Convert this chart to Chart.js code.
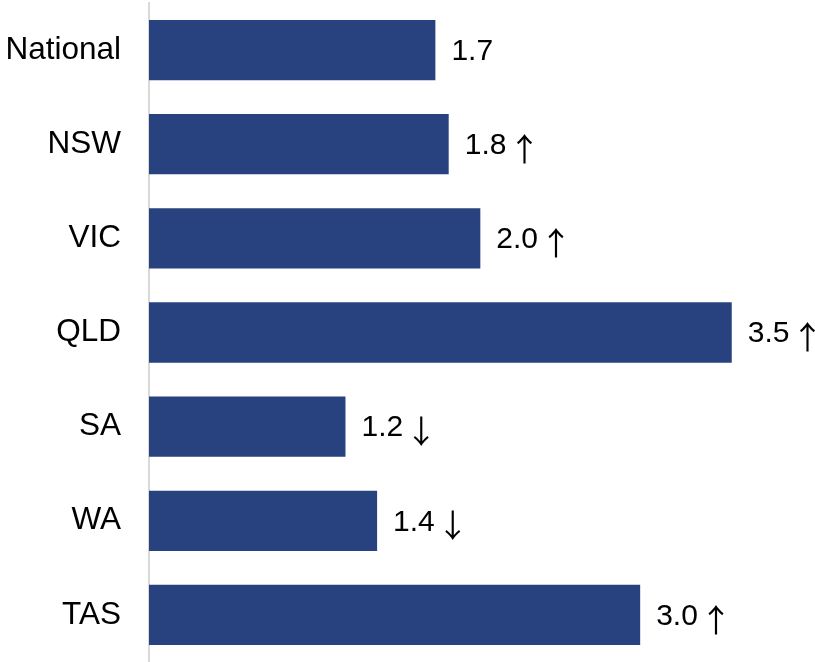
<!DOCTYPE html>
<html>
<head>
<meta charset="utf-8">
<script src="https://cdn.jsdelivr.net/npm/chart.js@4/dist/chart.umd.min.js"></script>
<style>
  html, body { margin: 0; padding: 0; background: #fff; }
  #wrap { width: 815px; height: 662px; }
</style>
</head>
<body>
<div id="wrap"><canvas id="chart"></canvas></div>
<script>
const regions = ['National', 'NSW', 'VIC', 'QLD', 'SA', 'WA', 'TAS'];
const values = [1.72, 1.80, 1.99, 3.50, 1.18, 1.37, 2.95];
const valueLabels = ['1.7', '1.8', '2.0', '3.5', '1.2', '1.4', '3.0'];
const trends = ['', '↑', '↑', '↑', '↓', '↓', '↑'];

// value text plus trend arrow at the end of each bar
const barLabels = {
    id: 'barLabels',
    afterDatasetsDraw(chart) {
        const ctx = chart.ctx;
        const meta = chart.getDatasetMeta(0);
        ctx.save();
        ctx.fillStyle = '#000';
        ctx.textBaseline = 'middle';
        meta.data.forEach((bar, i) => {
            ctx.font = '30px "Liberation Sans", Arial, sans-serif';
            ctx.textAlign = 'left';
            const txt = valueLabels[i];
            const x0 = bar.x + 16;
            ctx.fillText(txt, x0, bar.y + 1.5);
            if (trends[i]) {
                const w = ctx.measureText(txt).width;
                ctx.font = '32px "Noto Sans CJK SC"';
                ctx.textAlign = 'center';
                ctx.fillText(trends[i], x0 + w + 18, bar.y + 4.5);
            }
        });
        ctx.restore();
    }
};

new Chart(document.getElementById('chart'), {
    type: 'bar',
    data: {
        labels: regions,
        datasets: [{
            data: values,
            backgroundColor: '#27427f',
            barPercentage: 0.64,
            categoryPercentage: 1
        }]
    },
    plugins: [barLabels],
    options: {
        indexAxis: 'y',
        responsive: true,
        maintainAspectRatio: false,
        animation: false,
        layout: { padding: { top: 3, bottom: 0, left: 0, right: 0 } },
        plugins: {
            legend: { display: false },
            tooltip: { enabled: false }
        },
        scales: {
            x: { display: false, min: 0, max: 4 },
            y: {
                afterFit: s => { s.width = 149; s.paddingTop = 0; s.paddingBottom = 0; },
                grid: { display: false, drawTicks: false },
                border: { display: true, color: '#d9d9d9', width: 2 },
                ticks: {
                    color: '#000',
                    padding: 28,
                    font: { family: '"Liberation Sans", Arial, sans-serif', size: 31.5 }
                }
            }
        }
    }
});
</script>
</body>
</html>
